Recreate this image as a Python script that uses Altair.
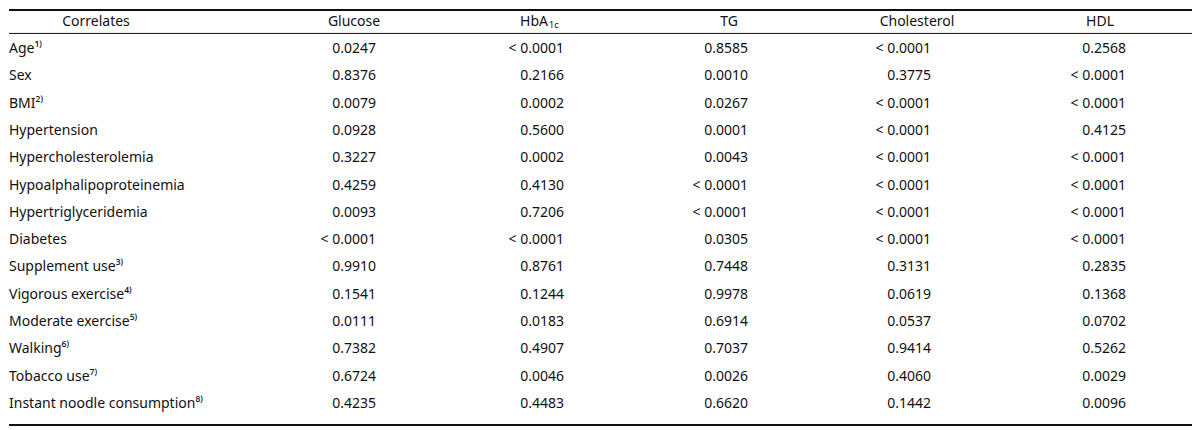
import altair as alt
import pandas as pd

# ---- data ----
correlates = [
    "Age¹⁾", "Sex", "BMI²⁾", "Hypertension", "Hypercholesterolemia",
    "Hypoalphalipoproteinemia", "Hypertriglyceridemia", "Diabetes",
    "Supplement use³⁾", "Vigorous exercise⁴⁾", "Moderate exercise⁵⁾",
    "Walking⁶⁾", "Tobacco use⁷⁾", "Instant noodle consumption⁸⁾",
]
outcomes = ["Glucose", "HbA1c", "TG", "Cholesterol", "HDL"]
glucose = ["0.0247", "0.8376", "0.0079", "0.0928", "0.3227", "0.4259", "0.0093",
           "< 0.0001", "0.9910", "0.1541", "0.0111", "0.7382", "0.6724", "0.4235"]
hba1c = ["< 0.0001", "0.2166", "0.0002", "0.5600", "0.0002", "0.4130", "0.7206",
         "< 0.0001", "0.8761", "0.1244", "0.0183", "0.4907", "0.0046", "0.4483"]
tg = ["0.8585", "0.0010", "0.0267", "0.0001", "0.0043", "< 0.0001", "< 0.0001",
      "0.0305", "0.7448", "0.9978", "0.6914", "0.7037", "0.0026", "0.6620"]
cholesterol = ["< 0.0001", "0.3775", "< 0.0001", "< 0.0001", "< 0.0001", "< 0.0001",
               "< 0.0001", "< 0.0001", "0.3131", "0.0619", "0.0537", "0.9414",
               "0.4060", "0.1442"]
hdl = ["0.2568", "< 0.0001", "< 0.0001", "0.4125", "< 0.0001", "< 0.0001",
       "< 0.0001", "< 0.0001", "0.2835", "0.1368", "0.0702", "0.5262", "0.0029",
       "0.0096"]
columns = [glucose, hba1c, tg, cholesterol, hdl]

# ---- layout (styling, not data) ----
FONT = "Noto Sans"
SIZE = 14
INK = "#111111"
W, H = 1184, 420
COL_RIGHT = [367, 555, 739, 922, 1117]      # right edge of value columns
HEAD_CENTER = [345, 532, 720, 908, 1091]    # header centres
LABEL_HEAD_CENTER = 87

# ---- tables built from the arrays ----
label_df = pd.DataFrame({"row": range(1, len(correlates) + 1), "text": correlates, "x": 0})
value_rows = []
for ci, col in enumerate(columns):
    for ri, v in enumerate(col):
        value_rows.append({"row": ri + 1, "text": v, "x": COL_RIGHT[ci]})
value_df = pd.DataFrame(value_rows)
head_rows = [{"row": 0, "text": "Correlates", "x": LABEL_HEAD_CENTER}]
for ci, name in enumerate(outcomes):
    if name != "HbA1c":
        head_rows.append({"row": 0, "text": name, "x": HEAD_CENTER[ci]})
head_df = pd.DataFrame(head_rows)
hb_df = pd.DataFrame([{"row": 0, "text": "HbA", "x": HEAD_CENTER[1] + 7}])
hb_sub_df = pd.DataFrame([{"row": 0, "text": "1c", "x": HEAD_CENTER[1] + 8}])
rule_df = pd.DataFrame({"row": [-0.43, 0.43, 14.77], "w": [2, 1, 2]})

xs = alt.Scale(domain=[0, W], range=[0, W])
ys = alt.Scale(domain=[0, 14], range=[12.7, 395.0])

def X():
    return alt.X("x:Q", scale=xs, axis=None)

def Y():
    return alt.Y("row:Q", scale=ys, axis=None)

def text_layer(df, align, size=SIZE, dy=0):
    return alt.Chart(df).mark_text(
        align=align, baseline="middle", font=FONT, fontSize=size, color=INK, dy=dy
    ).encode(x=X(), y=Y(), text="text:N")

labels = text_layer(label_df, "left")
values = text_layer(value_df, "right")
heads = text_layer(head_df, "center")
hb = text_layer(hb_df, "right")
hb_sub = text_layer(hb_sub_df, "left", size=9, dy=3)

rules = alt.Chart(rule_df).mark_rule(color=INK).encode(
    x=alt.value(0), x2=alt.value(W), y=Y(),
    strokeWidth=alt.StrokeWidth("w:Q", scale=None, legend=None),
)

chart = alt.layer(rules, labels, values, heads, hb, hb_sub).properties(
    width=W, height=H, padding=0,
    autosize=alt.AutoSizeParams(type="fit", contains="padding"),
).configure_view(stroke=None)

chart.save("out.html", embed_options={"renderer": "svg", "actions": False})
